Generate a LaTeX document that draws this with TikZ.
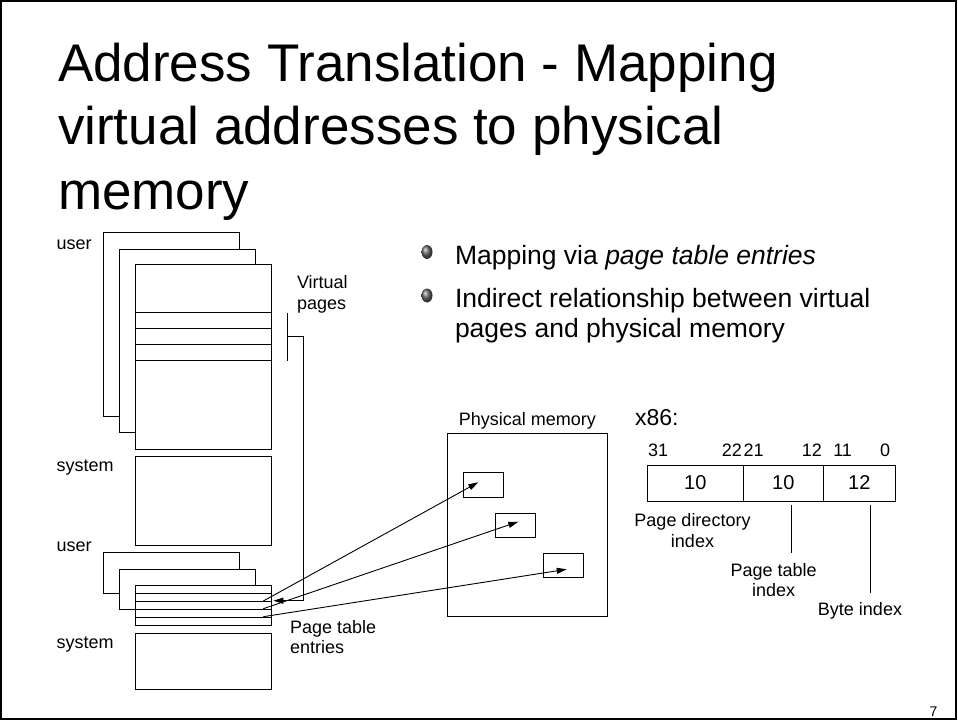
\documentclass[tikz,border=0pt]{standalone}
\usepackage{fontspec}
\setmainfont{Liberation Sans}
\usetikzlibrary{arrows.meta}
\newcommand\setfs[1]{\fontsize{#1}{#1}\selectfont}

\begin{document}
\begin{tikzpicture}[x=1pt,y=-1pt,
  box/.style={draw, fill=white, line width=1pt, inner sep=0pt, outer sep=0pt, anchor=north west},
  lbl/.style={inner sep=0pt, outer sep=0pt, font=\setfs{18}},
  txt/.style={inner sep=0pt, outer sep=0pt, anchor=base west},
  arr/.style={line width=0.9pt, -{Triangle[length=10pt,width=6pt]}},
  thin/.style={line width=1pt},
  bullet/.style={ball color=gray!80!black}]
\useasboundingbox (0,0) rectangle (958,722);
% slide frame
\draw[line width=2pt] (1,1.3) rectangle (955.5,718.7);

% title
\node[txt, font=\setfs{53}] (t1) at (58,81.7) {Address Translation - Mapping};
\node[txt, font=\setfs{53}] (t2) at (58,145) {virtual addresses to physical};
\node[txt, font=\setfs{53}] (t3) at (58,210) {memory};

% bullet list
\shade[bullet] (427,252) ellipse [x radius=5.5pt, y radius=7pt];
\shade[bullet] (427,295.5) ellipse [x radius=5.5pt, y radius=7pt];
\node[txt, font=\setfs{26.5}] (b1) at (455,264.5) {Mapping via \textit{page table entries}};
\node[txt, font=\setfs{26.5}] (b2) at (455,307) {Indirect relationship between virtual};
\node[txt, font=\setfs{26.5}] (b3) at (455,337) {pages and physical memory};

% virtual address space: user pages (stacked) and system part
\node[box, minimum width=136pt, minimum height=184pt] (va) at (103.3,232.7) {};
\node[box, minimum width=136pt, minimum height=183.7pt] (vb) at (119,249) {};
\node[box, minimum width=136pt, minimum height=184.7pt] (vc) at (135.3,264.3) {};
\draw[thin] (135.3,312.7) -- (271.3,312.7);
\draw[line width=1.4pt] (135.3,328.7) -- (271.3,328.7);
\draw[line width=1.4pt] (135.3,344.7) -- (271.3,344.7);
\draw[thin] (135.3,360.7) -- (271.3,360.7);
\node[box, minimum width=136pt, minimum height=88.3pt] (sys1) at (135.3,456.7) {};

% page tables: user part (stacked) and system part
\node[box, minimum width=136pt, minimum height=40.6pt] (pa) at (103.3,552.7) {};
\node[box, minimum width=136pt, minimum height=40pt] (pb) at (119,569) {};
\node[box, minimum width=136pt, minimum height=40pt] (pc) at (135.3,585) {};
\draw[thin] (135.3,593.3) -- (271.3,593.3);
\draw[thin] (135.3,601) -- (271.3,601);
\draw[thin] (135.3,609) -- (271.3,609);
\draw[thin] (135.3,617) -- (271.3,617);
\node[box, minimum width=136pt, minimum height=56pt] (sys2) at (135.3,633.3) {};

% labels of the left column
\node[lbl, anchor=base west] (u1) at (56.7,249.3) {user};
\node[lbl, anchor=base west] (s1) at (56.7,471.7) {system};
\node[lbl, anchor=base west] (u2) at (56.7,551.7) {user};
\node[lbl, anchor=base west] (s2) at (56.7,648) {system};
\node[lbl, anchor=base west] (vp1) at (297,288.3) {Virtual};
\node[lbl, anchor=base west] (vp2) at (297,309.3) {pages};
\node[lbl, anchor=base west] (pte1) at (290,633) {Page table};
\node[lbl, anchor=base west] (pte2) at (290,653) {entries};

% bracket from the virtual pages to their page table entries
\coordinate (brtop) at (287,313.3);
\coordinate (brbot) at (287,360.7);
\coordinate (brmid) at (287,336.7);
\coordinate (pte) at (273.3,600.7);
\draw[thin] (brtop) -- (brbot);
\draw[arr] (brmid) -- ++(16.3,0) |- (pte);

% physical memory
\node[lbl, anchor=base] (pmlbl) at (527.3,425) {Physical memory};
\node[box, minimum width=160pt, minimum height=183.3pt] (pm) at (447.3,433.3) {};
\node[box, minimum width=40pt, minimum height=24.3pt] (f1) at (463.3,472.7) {};
\node[box, minimum width=40pt, minimum height=24pt] (f2) at (495.3,513.3) {};
\node[box, minimum width=40pt, minimum height=24pt] (f3) at (543.3,553.3) {};

% page table entries point to page frames
\coordinate (e1) at (263.3,601);
\coordinate (e2) at (263.3,608.7);
\coordinate (e3) at (263.3,616.7);
\coordinate (k1) at (478.3,482.3);
\coordinate (k2) at (518.3,521.7);
\coordinate (k3) at (566.7,569.3);
\draw[arr] (e1) -- (k1);
\draw[arr] (e2) -- (k2);
\draw[arr] (e3) -- (k3);

% x86 virtual address format
\node[txt, font=\setfs{23}] (x86) at (635,425) {x86:};
\node[box, minimum width=96pt, minimum height=36pt, font=\setfs{20}] (dir) at (647.3,465) {10};
\node[box, minimum width=80pt, minimum height=36pt, font=\setfs{20}] (tab) at (743.3,465) {10};
\node[box, minimum width=72pt, minimum height=36pt, font=\setfs{20}] (off) at (823.3,465) {12};
\node[lbl, anchor=base west] (n31) at (648,456.7) {31};
\node[lbl, anchor=base east] (n22) at (742,456.7) {22};
\node[lbl, anchor=base west] (n21) at (743.5,456.7) {21};
\node[lbl, anchor=base east] (n12) at (822,456.7) {12};
\node[lbl, anchor=base west] (n11) at (833.3,456.7) {11};
\node[lbl, anchor=base east] (n0) at (890,456.7) {0};

\node[lbl, anchor=base] (pd1) at (692.5,526.7) {Page directory};
\node[lbl, anchor=base] (pd2) at (692.5,547.3) {index};
\node[lbl, anchor=base] (pt1) at (773.7,576.7) {Page table};
\node[lbl, anchor=base] (pt2) at (773.7,596.7) {index};
\node[lbl, anchor=base] (bi) at (860,615) {Byte index};
\coordinate (ptl) at (791.7,553.3);
\coordinate (bil) at (870.7,593.3);
\draw[thin] (tab.south -| ptl) ++(0,4) -- (ptl);
\draw[thin] (off.south -| bil) ++(0,4) -- (bil);

% slide number
\node[inner sep=0pt, anchor=base, font=\setfs{14}] (pgno) at (933.5,716.7) {7};
\end{tikzpicture}
\end{document}
